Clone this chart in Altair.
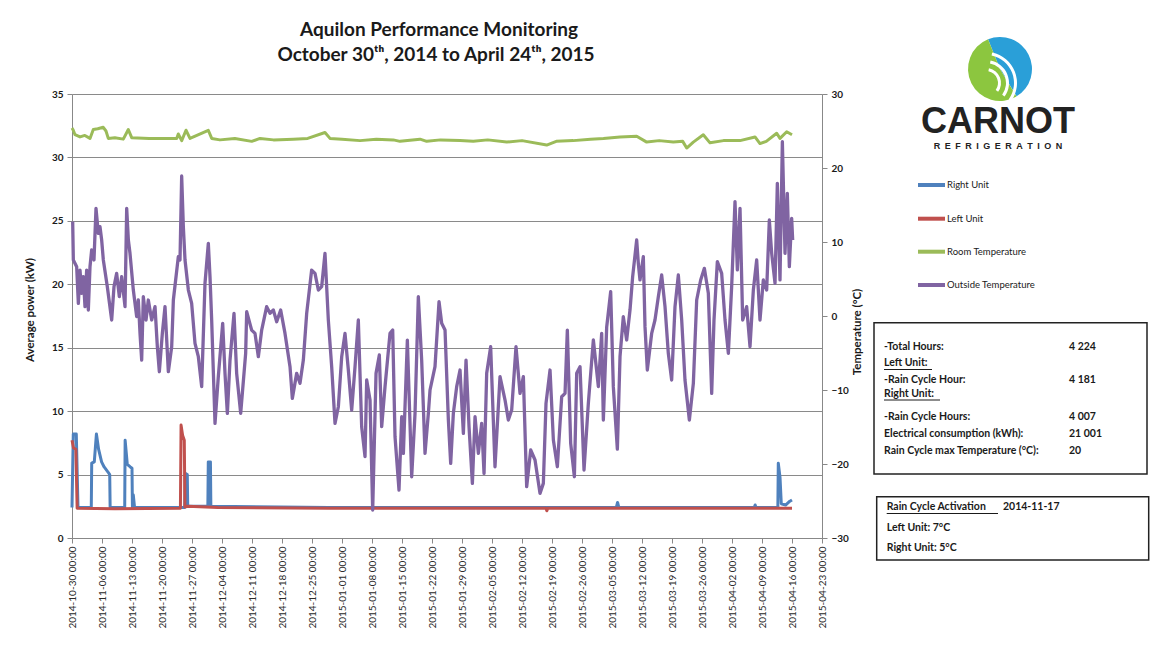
import json
import pandas as pd
import altair as alt

# ---------------- data ----------------
series_names = ["Right Unit", "Left Unit", "Room Temperature", "Outside Temperature"]
series_colors = ["#4F81BD", "#C0504D", "#9BBB59", "#8064A2"]

start_date = "2014-10-30"
tick_days = list(range(0, 176, 7))
tick_labels = [(pd.Timestamp(start_date) + pd.Timedelta(days=d)).strftime("%Y-%m-%d %H:%M") for d in tick_days]
power_ticks = [0, 5, 10, 15, 20, 25, 30, 35]
temp_ticks = [-30, -20, -10, 0, 10, 20, 30]

# days since 2014-10-30, outside temperature (deg C)
outside_day = [0.16, 0.31, 1.09, 1.48, 1.87, 2.26, 2.64, 3.03, 3.42, 3.81,
               4.2, 4.59, 5.13, 5.6, 6.14, 6.53, 6.92, 7.31, 8.24, 9.26,
               9.8, 10.42, 11.04, 11.59, 12.37, 12.76, 13.15, 13.53, 14.31, 15.09,
               15.48, 15.87, 16.26, 16.64, 17.27, 17.81, 18.59, 19.37, 19.91, 20.38,
               21.08, 21.7, 22.48, 23.26, 23.65, 24.81, 25.2, 25.59, 25.98, 26.37,
               27.15, 27.92, 28.7, 29.48, 30.26, 31.03, 31.81, 32.2, 32.59, 33.37,
               34.14, 35.16, 35.7, 36.25, 36.87, 37.8, 38.42, 39.36, 40.52, 40.76,
               41.92, 42.7, 43.48, 44.26, 45.42, 46.2, 46.98, 47.76, 48.69, 49.7,
               50.87, 51.41, 52.42, 53.2, 53.98, 54.76, 55.92, 56.7, 57.48, 58.26,
               59.03,
               59.81, 60.59, 61.37, 62.15, 62.93, 63.7, 64.48, 65.26, 66.04, 66.81,
               67.59, 68.37, 68.76, 69.54, 70.16, 70.94, 71.71, 72.26, 73.04, 74.2,
               74.83, 75.37, 76.3, 76.93, 77.32, 78.25, 79.26, 80.04, 80.81, 81.59,
               82.37, 83.15, 83.54, 84.7, 85.64, 86.26, 87.04, 87.82, 88.36, 88.98,
               89.76, 90.54, 91.32, 91.94, 92.64, 93.42, 94.04, 94.82, 95.59, 96.14,
               96.76, 97.69, 98.7, 99.87, 101.04, 101.81, 102.59, 103.6, 104.54, 105.32,
               106.09, 107.03, 108.04, 109.2, 109.98, 110.6, 111.54, 112.32, 113.25, 114.26,
               115.04, 115.58, 116.36, 117.22, 117.76,
               118.54, 119.47, 120.48, 121.65, 122.82, 123.59, 123.98, 124.76, 125.69, 126.31,
               127.25, 127.87, 128.64, 129.42, 130.2, 130.82, 131.76, 132.14, 132.53, 133.31,
               133.7, 134.24, 135.26, 136.03, 136.81, 137.59, 138.37, 139.14, 139.92, 140.7,
               141.48, 142.26, 143.03, 144.05, 144.98, 145.76, 146.69, 147.55, 148.48, 149.26,
               149.8, 150.58, 151.59, 152.37, 153.15, 153.92, 154.7, 155.25, 155.87, 156.49,
               157.42, 158.2, 158.98, 159.76, 160.53, 161.31, 162.09, 162.71, 163.26, 164.04,
               164.58, 165.2, 165.75, 166.37, 166.91, 167.38, 167.92, 168.16]
outside_temp = [12.75, 7.57, 6.66, 1.71, 6.21, 3.06, 5.31, 1.26, 6.21, 0.81,
                6.66, 8.92, 7.57, 14.55, 11.17, 12.07, 10.27, 7.57, 3.96, -0.54,
                3.96, 5.76, 2.61, 5.31, 1.26, 14.55, 10.27, 8.47, 3.51, -0.09,
                2.16, -2.35, -5.95, 2.61, -0.54, 2.16, -0.54, 1.26, -4.15, -7.53,
                -2.35, 1.26, -7.53, -4.15, 2.16, 8.02, 7.57, 18.92, 12.07, 7.57,
                3.51, 1.71, -3.7, -5.5, -9.55, 4.41, 9.82, 5.31, -0.54, -14.51,
                -8.2, -0.99, -7.75, -13.16, -5.95, 0.36, -7.75, -13.16, -5.05, 0.58,
                -1.9, -2.35, -5.5, -1.9, 1.26, 0.36, 0.81, -0.77, 0.81, -2.35,
                -6.85, -11.13, -7.75, -9.1, -5.95, 0.36, 6.21, 5.76, 3.51, 3.96,
                8.47,
                -0.54, -6.85, -14.51, -12.26, -5.5, -2.35, -7.3, -12.71, -6.85, -0.54,
                -14.96, -19.01, -8.65, -11.36, -26.22, -7.75, -5.27, -14.96, -9.55, -2.35,
                -1.9, -16.31, -23.52, -13.61, -18.56, -3.25, -21.72, -13.16, 2.61, -5.95,
                -18.56, -13.16, -10.0, -6.85, 1.93, -0.99, -1.9, -14.06, -19.92, -13.16,
                -9.55, -7.3, -15.86, -5.95, -14.96, -22.62, -13.61, -18.56, -14.51, -21.27,
                -7.75, -4.15, -20.37, -8.2, -11.36, -14.06, -12.71, -4.15, -10.46, -8.2,
                -23.07, -18.11, -19.46, -23.97, -22.62, -11.81, -7.3, -16.76, -20.37, -10.91,
                -10.46, -1.9, -17.21, -21.72, -7.75,
                -6.85, -20.81, -11.8, -3.24, -9.55, -2.34, -14.06, -1.5, 3.29, -9.55,
                -18.0, -5.5, -0.09, -3.24, 0.81, 5.32, 10.27, 7.12, 4.87, 8.02,
                -1.44, -7.3, -2.34, -0.54, 2.61, 5.54, 1.26, -5.05, -8.65, 1.26,
                5.54, -0.54, -8.65, -14.06, -9.1, 2.16, 4.87, 6.44, 3.06, -10.45,
                -0.54, 7.34, 5.77, -0.54, -5.05, 3.96, 15.45, 6.22, 14.55, -0.54,
                1.26, -4.14, 3.51, 7.57, -0.54, 4.87, 3.51, 12.97, 8.47, 4.42,
                17.93, 4.87, 23.56, 8.47, 16.58, 6.67, 13.2, 10.27]

room_day = [0.0, 0.3, 0.7, 1.87, 3.0, 4.2, 4.97, 6.0, 7.3, 7.93,
            8.47, 10.0, 11.97, 13.14, 13.93, 18.0, 24.43, 24.8, 25.6, 26.6,
            27.53, 31.8, 32.6, 34.53, 38.0, 41.93, 43.87, 47.0, 51.63, 55.0,
            59.03, 60.2, 63.0, 67.2, 71.0, 74.97, 76.53, 81.2, 82.76, 86.0,
            90.53, 93.63, 97.0, 101.43, 105.0, 110.76, 113.0, 116.96, 121.0, 124.0,
            127.87, 131.76, 134.1, 137.0, 140.3, 142.5, 143.43, 144.97, 147.3, 148.87,
            152.0, 155.87, 159.37, 160.53, 162.0, 164.43, 165.2, 166.76, 168.0]
room_temp = [25.4, 25.1, 24.5, 24.2, 24.4, 24.0, 25.2, 25.3, 25.5, 25.0,
             24.0, 24.1, 23.9, 25.2, 24.1, 24.0, 24.0, 24.6, 23.7, 25.1,
             24.0, 25.1, 24.0, 23.8, 24.0, 23.6, 24.0, 23.8, 23.9, 24.0,
             24.8, 24.0, 23.9, 23.7, 23.9, 23.8, 23.6, 23.9, 23.6, 23.8,
             23.7, 23.6, 23.8, 23.5, 23.7, 23.1, 23.6, 23.7, 23.9, 24.0,
             24.2, 24.3, 23.5, 23.7, 23.5, 23.6, 22.7, 23.5, 24.5, 23.4,
             23.7, 23.7, 24.2, 23.3, 23.6, 24.7, 24.0, 24.9, 24.5]

right_day = [0.0, 0.3, 1.0, 1.4, 4.5, 4.6, 5.2, 5.7, 6.2, 6.9,
             7.5, 8.4, 8.8, 8.9, 12.3, 12.4, 12.9, 13.6, 14.0, 14.1,
             14.3, 14.6, 26.3, 26.4, 26.9, 27.0, 31.7, 31.8, 32.3, 32.4,
             60.0, 90.0, 127.0, 127.3, 127.6, 159.2, 159.4, 159.6, 164.7, 164.8,
             165.2, 165.5, 166.5, 167.5, 168.0]
right_kw = [2.4, 8.2, 8.2, 2.4, 2.4, 5.9, 6.0, 8.2, 7.0, 6.0,
            5.6, 5.2, 5.0, 2.4, 2.4, 7.7, 5.8, 5.6, 5.5, 2.4,
            3.4, 2.4, 2.4, 5.1, 5.0, 2.5, 2.5, 6.0, 6.0, 2.5,
            2.4, 2.4, 2.4, 2.8, 2.4, 2.4, 2.6, 2.4, 2.4, 5.9,
            4.8, 2.7, 2.6, 2.9, 3.0]

left_day = [0.0, 0.35, 0.9, 1.2, 10.0, 25.3, 25.45, 25.8, 26.2, 26.35,
            27.0, 34.0, 60.0, 90.0, 110.6, 110.8, 111.0, 140.0, 168.0]
left_kw = [7.7, 7.1, 7.0, 2.35, 2.3, 2.35, 8.9, 8.1, 7.7, 2.45,
           2.5, 2.4, 2.35, 2.35, 2.35, 2.15, 2.35, 2.35, 2.35]

stats_labels = ["-Total Hours:", "Left Unit:", "-Rain Cycle Hour:", "Right Unit:",
                "-Rain Cycle Hours:", "Electrical consumption (kWh):",
                "Rain Cycle max Temperature (°C):"]
stats_values = ["4 224", "", "4 181", "", "4 007", "21 001", "20"]
activation_lines = ["Rain Cycle Activation", "Left Unit: 7°C", "Right Unit: 5°C"]
activation_date = "2014-11-17"

title_lines = ["Aquilon Performance Monitoring",
               "October 30\u1d57\u02b0, 2014 to April 24\u1d57\u02b0, 2015"]

# ---------------- chart ----------------
FONT = "Lato"
TXT = "#1a1a1a"
GRID = "#8a8a8a"
W, H = 750, 444

right_df = pd.DataFrame({"day": right_day, "kw": right_kw})
left_df = pd.DataFrame({"day": left_day, "kw": left_kw})
room_df = pd.DataFrame({"day": room_day, "temp": room_temp})
out_df = pd.DataFrame({"day": outside_day, "temp": outside_temp})
dummy = pd.DataFrame({"k": [0]})

label_expr = f"{json.dumps(tick_labels)}[round(datum.value / 7)]"
x_enc = alt.X("day:Q",
              scale=alt.Scale(domain=[0, 175], nice=False, zero=False),
              axis=alt.Axis(values=tick_days, labelExpr=label_expr, labelAngle=270,
                            title=None, grid=False, tickSize=5, labelPadding=3,
                            labelFontSize=10, labelColor="#2a2a2a", labelFont=FONT,
                            labelOverlap=False))

y_pow = alt.Y("kw:Q", scale=alt.Scale(domain=[0, 35], nice=False),
              axis=alt.Axis(values=power_ticks, title=None, grid=True, gridColor=GRID,
                            gridWidth=1, tickSize=5, labelPadding=4, labelFontSize=10,
                            labelFontWeight="bold", labelColor=TXT, labelFont=FONT))
y_tmp = alt.Y("temp:Q", scale=alt.Scale(domain=[-30, 30], nice=False),
              axis=alt.Axis(orient="right", values=temp_ticks, title=None, grid=False,
                            tickSize=5, labelPadding=4, labelFontSize=10,
                            labelFontWeight="bold", labelColor=TXT, labelFont=FONT))

SW = 3.0
blue = alt.Chart(right_df).mark_line(color=series_colors[0], strokeWidth=SW,
                                     strokeJoin="round").encode(x=x_enc, y=y_pow)
red = alt.Chart(left_df).mark_line(color=series_colors[1], strokeWidth=SW,
                                   strokeJoin="round").encode(x=x_enc, y=y_pow)
green = alt.Chart(room_df).mark_line(color=series_colors[2], strokeWidth=SW,
                                     strokeJoin="round").encode(x=x_enc, y=y_tmp)
purple = alt.Chart(out_df).mark_line(color=series_colors[3], strokeWidth=3.3,
                                     strokeJoin="round").encode(x=x_enc, y=y_tmp)


def txt(s, x, y, size=10.5, weight="bold", align="left", angle=0, font=FONT,
        color=TXT, baseline="middle"):
    return alt.Chart(dummy).mark_text(
        text=s, fontSize=size, fontWeight=weight, align=align, angle=angle,
        font=font, color=color, baseline=baseline
    ).encode(x=alt.value(x), y=alt.value(y))


def hrule(x1, x2, y, color="#1a1a1a", width=1.0):
    return alt.Chart(dummy).mark_rule(color=color, strokeWidth=width).encode(
        x=alt.value(x1), x2=alt.value(x2), y=alt.value(y))


def box(x1, x2, y1, y2):
    return alt.Chart(dummy).mark_rect(filled=False, stroke="#222222", strokeWidth=1.5).encode(
        x=alt.value(x1), x2=alt.value(x2), y=alt.value(y1), y2=alt.value(y2))


def arc(t1, t2, cx, cy, r, color, inner=0):
    return alt.Chart(dummy).mark_arc(radius=r, innerRadius=inner, color=color).encode(
        theta=alt.value(t1), theta2=alt.value(t2), x=alt.value(cx), y=alt.value(cy))


ann = []
# titles
ann.append(txt(title_lines[0], 367, -64, size=19, align="center"))
ann.append(txt(title_lines[1], 364, -39, size=19, align="center"))
# axis titles
ann.append(txt("Average power (kW)", -41, 216, size=11.5, angle=270, align="center"))
ann.append(txt("Temperature (°C)", 786, 238, size=11.5, angle=270, align="center"))

# legend
leg_y = [91, 124.7, 157.7, 191]
for name, col, ly in zip(series_names, series_colors, leg_y):
    ann.append(hrule(846, 873, ly, color=col, width=4))
    ann.append(txt(name, 875, ly, size=9.5, weight="normal"))

# stats box
ann.append(box(802, 1075, 228.7, 380))
stat_y = [253, 269, 286, 300, 323, 340.3, 356.7]
for lab, val, sy in zip(stats_labels, stats_values, stat_y):
    ann.append(txt(lab, 812, sy))
    if val:
        ann.append(txt(val, 997, sy))
ann.append(hrule(812, 860, 275.5))
ann.append(hrule(812, 868, 306))

# activation box
ann.append(box(804.7, 1076.7, 402.7, 466))
act_y = [413, 434, 454]
for lab, ay in zip(activation_lines, act_y):
    ann.append(txt(lab, 814.7, ay))
ann.append(txt(activation_date, 931, 413))
ann.append(hrule(814.7, 926, 419.5))

# logo
cx, cy = 928, -25
ann.append(arc(5.9, 8.88, cx, cy, 32, "#2A9FD8"))
ann.append(arc(2.6, 5.9, cx, cy, 32, "#8CC63F"))
for r in [12, 20, 28]:
    ann.append(arc(0.2, 2.2, cx - 14, cy + 14, r + 3, "white", inner=r))
ann.append(txt("CARNOT", 926, 28, size=36, font="Liberation Sans", color="#222222",
               align="center", baseline="middle"))
ann.append(txt("\u2002".join("REFRIGERATION"), 926, 52, size=9, font="Liberation Sans",
               color="#222222", align="center"))

chart = alt.layer(
    alt.layer(blue, red),
    alt.layer(green, purple),
    *ann
).resolve_scale(y="independent").properties(
    width=W, height=H,
    padding={"left": 64, "top": 86, "right": 336, "bottom": 104},
    autosize=alt.AutoSizeParams(type="none"),
).configure_view(strokeWidth=0).configure_axis(
    domainColor=GRID, tickColor=GRID, domainWidth=1
).configure(background="white")

chart.save("out.html", embed_options={"renderer": "svg", "actions": False})
